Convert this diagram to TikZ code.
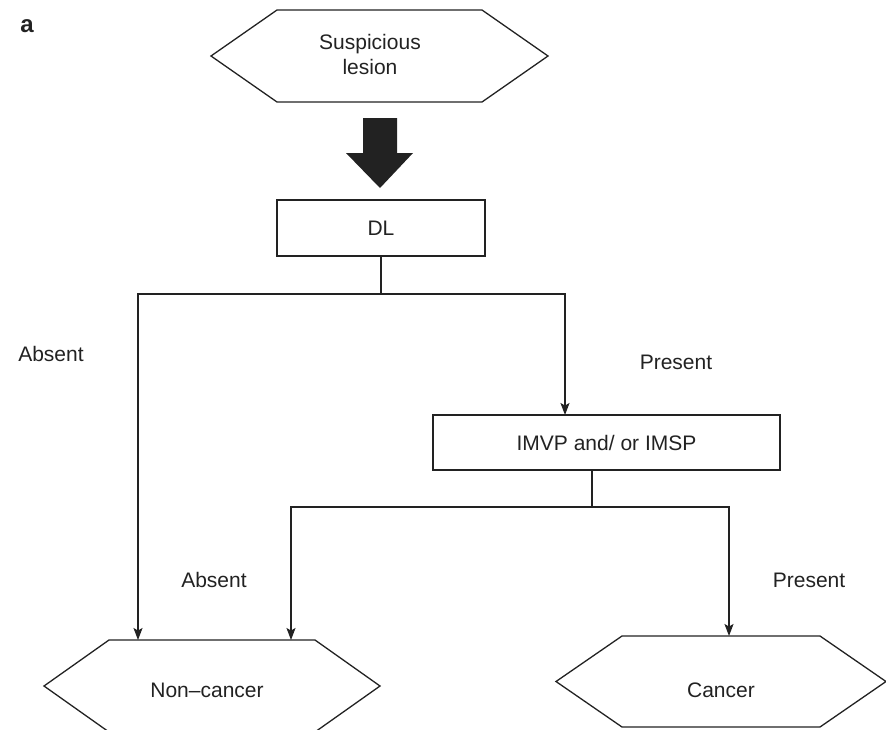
\documentclass[tikz,border=0pt]{standalone}
\usepackage{fontspec}
\setmainfont{Liberation Sans}
\usetikzlibrary{arrows.meta}
\definecolor{ink}{HTML}{222222}

% draws a flat-topped hexagon around the named node, #2 = depth of the side points
\newcommand\hexframe[2]{%
  \draw[frame] (#1.west) -- ([xshift=#2]#1.north west) -- ([xshift=-#2]#1.north east)
    -- (#1.east) -- ([xshift=-#2]#1.south east) -- ([xshift=#2]#1.south west) -- cycle;}

\begin{document}
\begin{tikzpicture}[x=1pt,y=-1pt,
  frame/.style={draw=ink,line width=1.3pt,line join=miter},
  hexbox/.style={draw=none,inner sep=0pt,outer sep=0pt},
  stepbox/.style={draw=ink,line width=1.3pt,inner sep=0pt,outer sep=0pt},
  txt/.style={inner sep=0pt,text=ink,font=\fontsize{21}{25}\selectfont,align=center},
  flow/.style={draw=ink,line width=1.3pt,-{Stealth[length=12pt,width=9pt,inset=2.5pt]}},
  link/.style={draw=ink,line width=1.3pt}]
\useasboundingbox (0,0) rectangle (886,729);
\clip (0,0) rectangle (886,729);

% panel letter
\node[txt,font=\fontsize{24}{28}\selectfont\bfseries] (panel) at (27,26) {a};

% start hexagon
\node[hexbox,minimum width=337pt,minimum height=92pt] (start) at (379.5,56) {};
\hexframe{start}{66pt}
\node[txt] (starttext) at (370,54) {Suspicious\\lesion};

% bold down arrow
\fill[ink] (363,118) -- (397,118) -- (397,153) -- (413,153) -- (380,188)
  -- (346,153) -- (363,153) -- cycle;

% decision boxes
\node[stepbox,minimum width=208pt,minimum height=56pt,txt] (dl) at (381,228) {DL};
\node[stepbox,minimum width=347pt,minimum height=55pt,txt] (imvp) at (606.5,442.5) {IMVP and/ or IMSP};

% outcome hexagons
\node[hexbox,minimum width=336pt,minimum height=92pt] (noncancer) at (212,686) {};
\hexframe{noncancer}{65pt}
\node[txt] (nctext) at (207,690) {Non–cancer};

\node[hexbox,minimum width=330pt,minimum height=91pt] (cancer) at (721,681.5) {};
\hexframe{cancer}{66pt}
\node[txt] (ctext) at (721,690) {Cancer};

% branch points
\coordinate (split1) at (381,294);
\coordinate (split2) at (592,507);

% connectors
\draw[link] (dl.south) -- (split1);
\draw[flow] (split1) -| ([xshift=-74pt]noncancer.north);
\draw[flow] (split1) -| ([xshift=-41.5pt]imvp.north);
\draw[link] ([xshift=-14.5pt]imvp.south) -- (split2);
\draw[flow] (split2) -| ([xshift=79pt]noncancer.north);
\draw[flow] (split2) -| ([xshift=8pt]cancer.north);

% branch labels
\node[txt] (absent1) at (51,354) {Absent};
\node[txt] (present1) at (676,362) {Present};
\node[txt] (absent2) at (214,580) {Absent};
\node[txt] (present2) at (809,580) {Present};
\end{tikzpicture}
\end{document}
